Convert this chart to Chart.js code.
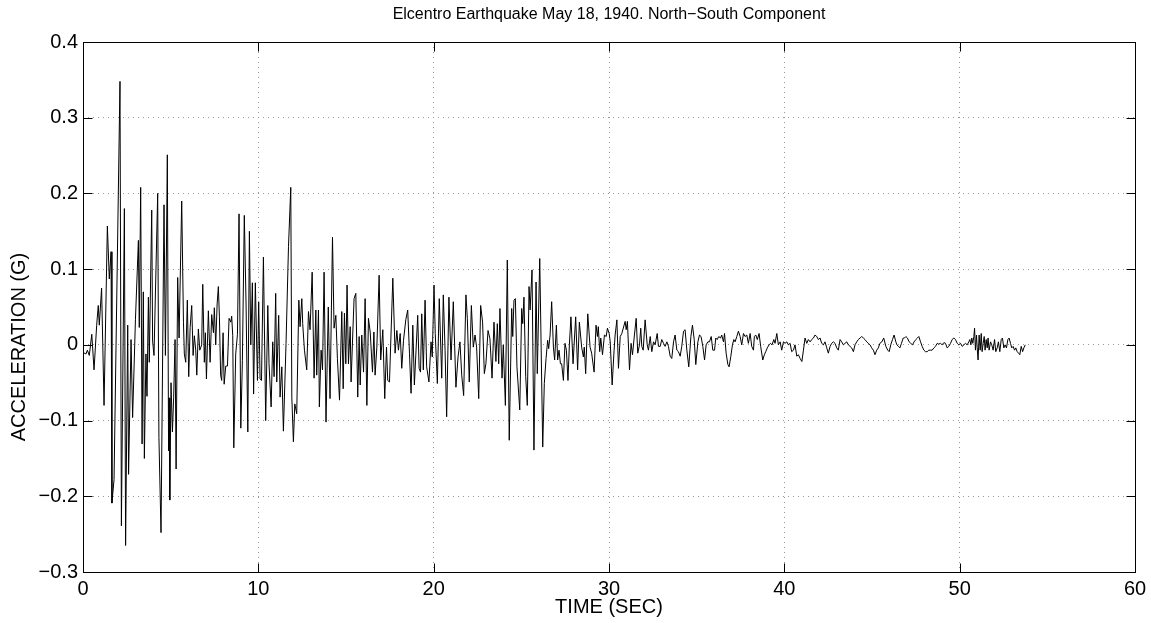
<!DOCTYPE html>
<html>
<head>
<meta charset="utf-8">
<script src="https://cdn.jsdelivr.net/npm/chart.js@4.4.1/dist/chart.umd.min.js"></script>
<style>
  html, body { margin: 0; padding: 0; background: #fff; }
</style>
</head>
<body>
<canvas id="quake" width="1151" height="623"></canvas>
<script>
// El Centro, N-S component: time (s) and acceleration (g)
const timeSec = [
  0.00, 0.17, 0.25, 0.36, 0.50, 0.63, 0.78, 0.87, 0.93, 1.06, 1.20, 1.39, 1.50, 1.60, 1.65, 1.77,
  2.11, 2.19, 2.36, 2.43, 2.55, 2.60, 2.74, 2.83, 2.99, 3.16, 3.21, 3.29, 3.37, 3.44, 3.50, 3.59,
  3.65, 3.73, 3.78, 3.92, 3.97, 4.05, 4.26, 4.33, 4.45, 4.62, 4.70, 4.81, 4.88, 4.91, 4.95, 5.02,
  5.10, 5.17, 5.25, 5.31, 5.40, 5.48, 5.63, 5.73, 5.78, 5.86, 5.95, 6.03, 6.11, 6.20, 6.28, 6.35,
  6.43, 6.49, 6.58, 6.66, 6.77, 6.83, 6.92, 6.98, 7.04, 7.15, 7.25, 7.34, 7.44, 7.49, 7.57, 7.65,
  7.72, 7.78, 7.85, 7.91, 7.99, 8.05, 8.14, 8.24, 8.33, 8.43, 8.48, 8.54, 8.60, 8.71, 8.81, 8.90,
  9.00, 9.09, 9.20, 9.30, 9.40, 9.49, 9.57, 9.66, 9.73, 9.83, 9.95, 10.02, 10.10, 10.18, 10.29, 10.42,
  10.54, 10.61, 10.73, 10.82, 10.90, 10.99, 11.05, 11.16, 11.24, 11.34, 11.43, 11.58, 11.72, 11.85, 11.91, 12.00,
  12.08, 12.19, 12.31, 12.38, 12.48, 12.53, 12.63, 12.76, 12.86, 12.95, 13.07, 13.18, 13.28, 13.33, 13.43, 13.48,
  13.58, 13.66, 13.75, 13.86, 13.99, 14.09, 14.23, 14.32, 14.42, 14.51, 14.63, 14.76, 14.84, 14.91, 14.99, 15.06,
  15.14, 15.24, 15.29, 15.39, 15.46, 15.56, 15.67, 15.75, 15.81, 15.90, 16.00, 16.09, 16.19, 16.28, 16.38, 16.51,
  16.59, 16.66, 16.76, 16.89, 16.98, 17.10, 17.21, 17.31, 17.38, 17.48, 17.67, 17.80, 17.90, 17.99, 18.09, 18.18,
  18.28, 18.41, 18.52, 18.62, 18.71, 18.81, 18.90, 19.09, 19.17, 19.25, 19.32, 19.41, 19.51, 19.60, 19.73, 19.85,
  19.92, 20.02, 20.09, 20.21, 20.32, 20.46, 20.55, 20.65, 20.74, 20.87, 20.99, 21.12, 21.27, 21.39, 21.50, 21.60,
  21.71, 21.84, 21.92, 22.03, 22.15, 22.26, 22.36, 22.45, 22.57, 22.68, 22.79, 22.89, 22.98, 23.10, 23.21, 23.33,
  23.44, 23.55, 23.63, 23.71, 23.78, 23.90, 23.97, 24.09, 24.20, 24.31, 24.45, 24.51, 24.58, 24.66, 24.75, 24.91,
  25.02, 25.08, 25.15, 25.25, 25.34, 25.44, 25.50, 25.61, 25.72, 25.84, 25.91, 26.05, 26.22, 26.31, 26.41, 26.50,
  26.56, 26.64, 26.73, 26.83, 26.90, 27.00, 27.07, 27.15, 27.23, 27.30, 27.40, 27.49, 27.57, 27.66, 27.74, 27.83,
  27.95, 28.10, 28.21, 28.31, 28.44, 28.54, 28.59, 28.67, 28.79, 28.92, 29.01, 29.15, 29.26, 29.34, 29.39, 29.47,
  29.53, 29.63, 29.74, 29.84, 29.91, 30.01, 30.07, 30.18, 30.29, 30.35, 30.45, 30.54, 30.64, 30.73, 30.92, 30.98,
  31.05, 31.17, 31.26, 31.34, 31.45, 31.55, 31.64, 31.74, 31.81, 31.87, 31.95, 32.06, 32.18, 32.25, 32.35, 32.44,
  32.54, 32.63, 32.75, 32.82, 32.92, 33.01, 33.11, 33.20, 33.30, 33.39, 33.49, 33.58, 33.68, 33.77, 33.87, 33.96,
  34.06, 34.15, 34.25, 34.34, 34.44, 34.55, 34.67, 34.76, 34.86, 34.95, 35.07, 35.16, 35.25, 35.35, 35.45, 35.54,
  35.64, 35.73, 35.83, 35.92, 36.02, 36.09, 36.17, 36.26, 36.36, 36.43, 36.53, 36.59, 36.68, 36.78, 36.85, 36.95,
  37.04, 37.12, 37.19, 37.29, 37.38, 37.48, 37.57, 37.67, 37.76, 37.86, 37.95, 38.05, 38.14, 38.24, 38.29, 38.37,
  38.46, 38.56, 38.65, 38.77, 38.86, 38.94, 39.03, 39.13, 39.21, 39.30, 39.40, 39.47, 39.57, 39.66, 39.76, 39.85,
  39.95, 40.04, 40.14, 40.23, 40.33, 40.42, 40.52, 40.61, 40.71, 40.80, 40.90, 41.00, 41.09, 41.18, 41.28, 41.37,
  41.47, 41.56, 41.66, 41.75, 41.85, 41.94, 42.04, 42.13, 42.23, 42.32, 42.42, 42.51, 42.61, 42.70, 42.80, 42.89,
  42.99, 43.08, 43.18, 43.27, 43.37, 43.46, 43.56, 43.65, 43.75, 43.84, 43.94, 44.03, 44.13, 44.22, 44.32, 44.41,
  44.51, 44.60, 44.70, 44.79, 44.89, 44.98, 45.08, 45.17, 45.27, 45.36, 45.45, 45.56, 45.67, 45.79, 45.90, 45.98,
  46.07, 46.17, 46.26, 46.36, 46.42, 46.51, 46.59, 46.68, 46.78, 46.85, 46.93, 47.02, 47.12, 47.21, 47.31, 47.40,
  47.50, 47.59, 47.67, 47.77, 47.86, 47.96, 48.05, 48.15, 48.24, 48.34, 48.43, 48.53, 48.62, 48.72, 48.81, 48.91,
  49.00, 49.10, 49.19, 49.29, 49.38, 49.48, 49.57, 49.67, 49.76, 49.86, 49.95, 50.05, 50.14, 50.24, 50.33, 50.43,
  50.52, 50.58, 50.64, 50.69, 50.75, 50.81, 50.85, 50.90, 50.96, 51.00, 51.05, 51.11, 51.17, 51.23, 51.28, 51.34,
  51.40, 51.45, 51.51, 51.57, 51.62, 51.68, 51.76, 51.83, 51.91, 51.99, 52.06, 52.14, 52.21, 52.29, 52.37, 52.44,
  52.52, 52.59, 52.67, 52.75, 52.82, 52.90, 52.97, 53.05, 53.13, 53.20, 53.28, 53.36, 53.43, 53.51, 53.59, 53.66,
  53.74
];
const accelG = [
  -0.010, -0.012, -0.007, -0.014, 0.014, -0.033, 0.026, 0.052, 0.026, 0.075, -0.080, 0.157, 0.087, 0.123, -0.209, -0.178,
  0.348, -0.239, 0.180, -0.265, 0.026, -0.171, 0.007, -0.096, 0.033, 0.138, 0.023, 0.208, -0.131, 0.070, -0.150, -0.012,
  -0.068, 0.063, -0.023, 0.178, 0.005, -0.014, 0.200, -0.122, -0.248, 0.185, -0.014, 0.251, -0.140, -0.070, -0.205, -0.050,
  -0.115, -0.070, 0.007, -0.164, 0.089, 0.009, 0.190, 0.030, -0.012, -0.023, 0.059, -0.042, 0.023, 0.052, -0.014, 0.012,
  -0.007, -0.040, 0.021, -0.007, 0.000, 0.080, -0.023, 0.016, -0.045, 0.045, -0.023, 0.040, 0.016, 0.049, 0.000, 0.054,
  0.077, 0.037, -0.040, -0.047, 0.016, -0.052, -0.028, -0.028, 0.035, 0.030, 0.038, 0.012, -0.136, -0.012, 0.014, 0.173,
  -0.110, -0.021, 0.171, 0.054, -0.115, 0.150, 0.000, 0.082, -0.065, 0.082, -0.047, 0.057, -0.045, -0.047, 0.116, -0.100,
  0.052, -0.025, -0.082, 0.004, -0.042, 0.068, -0.049, 0.039, -0.069, -0.029, -0.114, 0.002, 0.130, 0.208, -0.069, -0.128,
  -0.078, -0.091, 0.059, 0.024, 0.061, 0.028, -0.007, -0.033, 0.044, 0.020, 0.096, -0.044, 0.046, -0.040, 0.046, -0.082,
  -0.007, -0.033, 0.096, -0.102, 0.050, -0.071, 0.142, 0.022, 0.039, -0.018, -0.073, 0.044, -0.058, 0.042, -0.025, 0.079,
  -0.025, 0.024, -0.049, 0.017, 0.061, 0.068, -0.069, 0.011, -0.053, 0.013, -0.036, 0.061, -0.080, 0.035, 0.017, -0.036,
  0.017, -0.040, -0.003, 0.092, -0.020, 0.020, -0.071, -0.003, -0.047, -0.049, 0.088, -0.011, 0.019, -0.007, 0.015, -0.031,
  0.006, 0.033, 0.046, -0.011, -0.064, 0.026, -0.053, 0.039, -0.031, -0.036, 0.041, -0.033, 0.059, -0.029, -0.049, 0.004,
  -0.016, 0.079, 0.015, -0.051, 0.061, -0.044, 0.066, -0.007, -0.095, 0.063, -0.020, 0.057, -0.056, -0.016, 0.004, -0.040,
  -0.067, 0.066, 0.035, -0.049, 0.052, -0.003, 0.013, -0.003, -0.071, 0.052, 0.030, -0.038, -0.025, 0.019, 0.008, -0.044,
  0.030, -0.022, 0.028, -0.025, 0.048, -0.044, 0.000, -0.080, 0.112, -0.126, 0.048, 0.011, 0.059, 0.061, -0.029, -0.086,
  0.048, 0.028, 0.063, -0.042, -0.080, 0.077, 0.046, 0.099, -0.139, 0.083, -0.038, 0.114, -0.135, -0.051, -0.018, 0.006,
  -0.005, 0.013, 0.057, -0.003, -0.020, 0.026, -0.020, -0.007, -0.025, -0.025, -0.047, 0.002, -0.007, -0.047, 0.000, 0.037,
  -0.025, 0.037, -0.033, 0.030, -0.003, -0.016, -0.003, -0.038, 0.041, -0.003, -0.011, -0.036, 0.026, 0.011, 0.024, -0.009,
  0.009, -0.013, 0.013, 0.011, 0.022, 0.015, 0.004, -0.053, -0.007, 0.013, 0.033, -0.031, 0.011, 0.015, 0.031, 0.020,
  0.031, -0.033, 0.002, -0.013, 0.013, 0.035, -0.011, 0.000, 0.022, -0.002, -0.007, 0.033, 0.000, -0.007, 0.011, -0.009,
  0.004, 0.000, 0.015, -0.002, -0.002, 0.007, 0.002, -0.002, 0.004, -0.002, -0.015, -0.018, 0.004, 0.013, -0.007, -0.009,
  -0.015, -0.002, 0.018, 0.020, -0.007, -0.029, 0.011, 0.026, 0.007, -0.026, 0.004, 0.013, 0.011, -0.002, -0.020, 0.000,
  0.004, 0.004, 0.011, -0.007, -0.007, 0.009, 0.007, 0.011, 0.009, 0.013, 0.004, 0.015, -0.011, -0.026, -0.029, -0.015,
  0.000, 0.007, 0.004, 0.011, 0.018, 0.011, 0.000, 0.015, 0.011, 0.013, 0.002, 0.015, -0.002, -0.007, 0.011, 0.013,
  0.007, 0.015, -0.002, -0.020, -0.013, -0.009, -0.004, 0.000, 0.002, 0.000, 0.007, 0.002, 0.015, 0.000, 0.004, -0.007,
  0.004, 0.002, 0.004, 0.000, 0.002, -0.009, -0.007, 0.000, -0.015, -0.013, -0.018, -0.022, -0.007, 0.009, 0.002, 0.007,
  0.004, 0.007, 0.009, 0.013, 0.011, 0.007, 0.009, 0.002, 0.000, 0.004, -0.004, -0.011, -0.002, 0.002, 0.004, 0.002,
  -0.004, -0.007, 0.007, 0.004, 0.000, 0.002, 0.004, 0.000, -0.002, -0.004, -0.009, 0.000, 0.004, 0.007, 0.009, 0.011,
  0.009, 0.007, 0.004, 0.002, 0.000, -0.004, -0.007, -0.013, -0.007, -0.004, 0.002, 0.004, 0.009, -0.002, -0.007, -0.009,
  0.000, 0.007, 0.013, 0.004, 0.000, -0.002, -0.004, 0.002, 0.009, 0.009, 0.011, 0.009, 0.004, 0.002, 0.000, 0.004,
  0.007, 0.009, 0.011, 0.004, -0.002, -0.007, -0.009, -0.009, -0.007, -0.007, -0.007, -0.004, -0.002, 0.002, 0.001, 0.002,
  0.000, 0.003, 0.002, -0.004, -0.002, 0.002, 0.007, 0.009, 0.007, 0.002, 0.000, 0.002, -0.002, 0.000, 0.002, 0.000,
  0.004, 0.007, 0.000, 0.009, 0.002, 0.011, 0.022, -0.007, 0.013, -0.004, -0.020, 0.013, -0.007, 0.015, -0.009, 0.002,
  0.011, -0.007, 0.007, -0.004, 0.009, -0.007, 0.004, 0.000, -0.007, 0.007, -0.009, -0.004, 0.004, -0.009, 0.007, 0.009,
  -0.004, 0.000, -0.004, 0.007, 0.009, 0.002, -0.004, -0.002, -0.007, -0.004, -0.009, -0.011, -0.013, -0.002, -0.009, -0.004,
  0.000
];

const xTicks = [0, 10, 20, 30, 40, 50, 60];
const xTickLabels = ['0', '10', '20', '30', '40', '50', '60'];
const yTicks = [-0.3, -0.2, -0.1, 0, 0.1, 0.2, 0.3, 0.4];
const yTickLabels = ['\u22120.3', '\u22120.2', '\u22120.1', '0', '0.1', '0.2', '0.3', '0.4'];

const titleText = 'Elcentro Earthquake May 18, 1940. North\u2212South Component';
const xLabel = 'TIME (SEC)';
const yLabel = 'ACCELERATION (G)';

const FONT = '"Liberation Sans", Arial, Helvetica, sans-serif';

// box, inward tick marks and all the text, MATLAB style
const matlabFrame = {
    id: 'matlabFrame',
    afterDraw(chart) {
        const ctx = chart.ctx;
        const area = chart.chartArea;
        const xs = chart.scales.x;
        const ys = chart.scales.y;
        const tickLen = 9;
        const left = Math.round(xs.getPixelForValue(xTicks[0])) + 0.5;
        const right = Math.round(xs.getPixelForValue(xTicks[xTicks.length - 1])) + 0.5;
        const top = Math.round(ys.getPixelForValue(yTicks[yTicks.length - 1])) + 0.5;
        const bottom = Math.round(ys.getPixelForValue(yTicks[0])) + 0.5;
        ctx.save();
        ctx.strokeStyle = '#000';
        ctx.lineWidth = 1;
        ctx.strokeRect(left, top, right - left, bottom - top);

        ctx.beginPath();
        xTicks.forEach(v => {
            const px = Math.round(xs.getPixelForValue(v)) + 0.5;
            ctx.moveTo(px, top); ctx.lineTo(px, top + tickLen);
            ctx.moveTo(px, bottom); ctx.lineTo(px, bottom - tickLen);
        });
        yTicks.forEach(v => {
            const py = Math.round(ys.getPixelForValue(v)) + 0.5;
            ctx.moveTo(left, py); ctx.lineTo(left + tickLen, py);
            ctx.moveTo(right, py); ctx.lineTo(right - tickLen, py);
        });
        ctx.stroke();

        ctx.fillStyle = '#000';
        ctx.font = '20px ' + FONT;
        ctx.textAlign = 'center';
        ctx.textBaseline = 'middle';
        xTicks.forEach((v, i) => {
            ctx.fillText(xTickLabels[i], xs.getPixelForValue(v), area.bottom + 17);
        });
        ctx.textAlign = 'right';
        yTicks.forEach((v, i) => {
            ctx.fillText(yTickLabels[i], area.left - 5, ys.getPixelForValue(v));
        });

        const midX = (area.left + area.right) / 2;
        ctx.textAlign = 'center';
        ctx.font = '16px ' + FONT;
        ctx.fillText(titleText, midX, 15);
        ctx.font = '20px ' + FONT;
        ctx.fillText(xLabel, midX, area.bottom + 35);

        ctx.translate(19, 347);
        ctx.rotate(-Math.PI / 2);
        ctx.fillText(yLabel, 0, 0);
        ctx.restore();
    }
};

const ctx = document.getElementById('quake').getContext('2d');
const quakeChart = new Chart(ctx, {
    type: 'line',
    data: {
        datasets: [{
            data: timeSec.map((t, i) => ({ x: t, y: accelG[i] })),
            borderColor: '#000',
            borderWidth: 1,
            pointRadius: 0,
            tension: 0,
            fill: false
        }]
    },
    options: {
        responsive: false,
        animation: false,
        devicePixelRatio: 1,
        layout: { padding: { left: 0, right: 16, top: 42, bottom: 0 } },
        plugins: {
            legend: { display: false },
            tooltip: { enabled: false },
            title: { display: false }
        },
        scales: {
            x: {
                type: 'linear',
                min: 0,
                max: 60,
                afterBuildTicks: scale => { scale.ticks = xTicks.map(v => ({ value: v })); },
                afterFit: scale => { scale.height = 51; },
                ticks: { display: false },
                grid: { color: '#999999', lineWidth: 1, drawTicks: false },
                border: { display: false, dash: [1, 4] }
            },
            y: {
                min: -0.3,
                max: 0.4,
                afterBuildTicks: scale => { scale.ticks = yTicks.map(v => ({ value: v })); },
                afterFit: scale => { scale.width = 83; },
                ticks: { display: false },
                grid: { color: '#999999', lineWidth: 1, drawTicks: false },
                border: { display: false, dash: [1, 4] }
            }
        }
    },
    plugins: [matlabFrame]
});
</script>
</body>
</html>
